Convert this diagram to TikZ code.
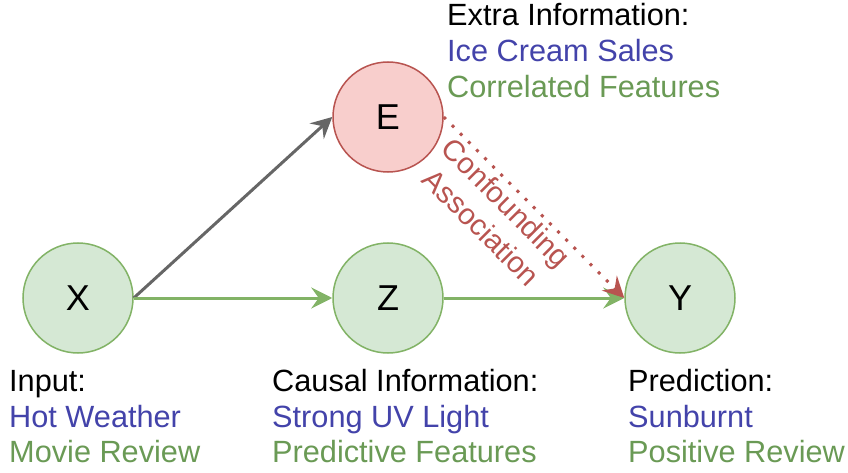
\documentclass[tikz,border=0pt]{standalone}
\usepackage{fontspec}
\setmainfont{Liberation Sans}
\usetikzlibrary{arrows.meta}

\definecolor{nodegreenfill}{HTML}{D5E8D4}
\definecolor{nodegreenline}{HTML}{82B366}
\definecolor{noderedfill}{HTML}{F8CECC}
\definecolor{noderedline}{HTML}{B85450}
\definecolor{edgegray}{HTML}{666666}
\definecolor{txtblue}{HTML}{4343AA}
\definecolor{txtgreen}{HTML}{6A9A55}

\tikzset{
  var/.style={circle, minimum size=110pt, inner sep=0pt, line width=1.5pt,
              font=\fontsize{36}{40}\selectfont},
  greenvar/.style={var, draw=nodegreenline, fill=nodegreenfill},
  redvar/.style={var, draw=noderedline, fill=noderedfill},
  txtline/.style={anchor=base west, inner sep=0pt, font=\fontsize{30.7}{35.5}\selectfont},
  headline/.style={txtline, text=black},
  blueline/.style={txtline, text=txtblue},
  greenline/.style={txtline, text=txtgreen},
  tip/.style={-{Stealth[length=21pt, width=21pt, inset=7.5pt]}},
  causal/.style={tip, draw=nodegreenline, line width=3pt},
  path/.style={tip, draw=edgegray, line width=3pt},
  spurious/.style={tip, draw=noderedline, line width=3pt, dash pattern=on 3pt off 8.5pt},
}

\begin{document}
\begin{tikzpicture}[x=1pt, y=-1pt]
  \useasboundingbox (0,0) rectangle (848,473);

  % variables
  \node[greenvar] (X) at (78,298) {X};
  \node[greenvar] (Z) at (388,298) {Z};
  \node[greenvar] (Y) at (680,298) {Y};
  \node[redvar]   (E) at (388,117) {E};

  % edges
  \draw[path]   (X.east) -- (E.west);
  \draw[causal] (X.east) -- (Z.west);
  \draw[causal] (Z.east) -- (Y.west);
  \draw[spurious] (E.east) -- (Y.west);

  \node[rotate=-45, align=center, text=noderedline, inner sep=0pt,
        font=\fontsize{29.5}{35}\selectfont] (conf) at (494,215)
        {Confounding\\Association};

  % captions
  \node[headline]  (in1) at (9,391)   {Input:};
  \node[blueline]  (in2) at (9,427)   {Hot Weather};
  \node[greenline] (in3) at (9,462)   {Movie Review};

  \node[headline]  (ca1) at (272,391) {Causal Information:};
  \node[blueline]  (ca2) at (272,427) {Strong UV Light};
  \node[greenline] (ca3) at (272,462) {Predictive Features};

  \node[headline]  (pr1) at (628,391) {Prediction:};
  \node[blueline]  (pr2) at (628,427) {Sunburnt};
  \node[greenline] (pr3) at (628,462) {Positive Review};

  \node[headline]  (ex1) at (447,26)  {Extra Information:};
  \node[blueline]  (ex2) at (447,62)  {Ice Cream Sales};
  \node[greenline] (ex3) at (447,98)  {Correlated Features};
\end{tikzpicture}
\end{document}
